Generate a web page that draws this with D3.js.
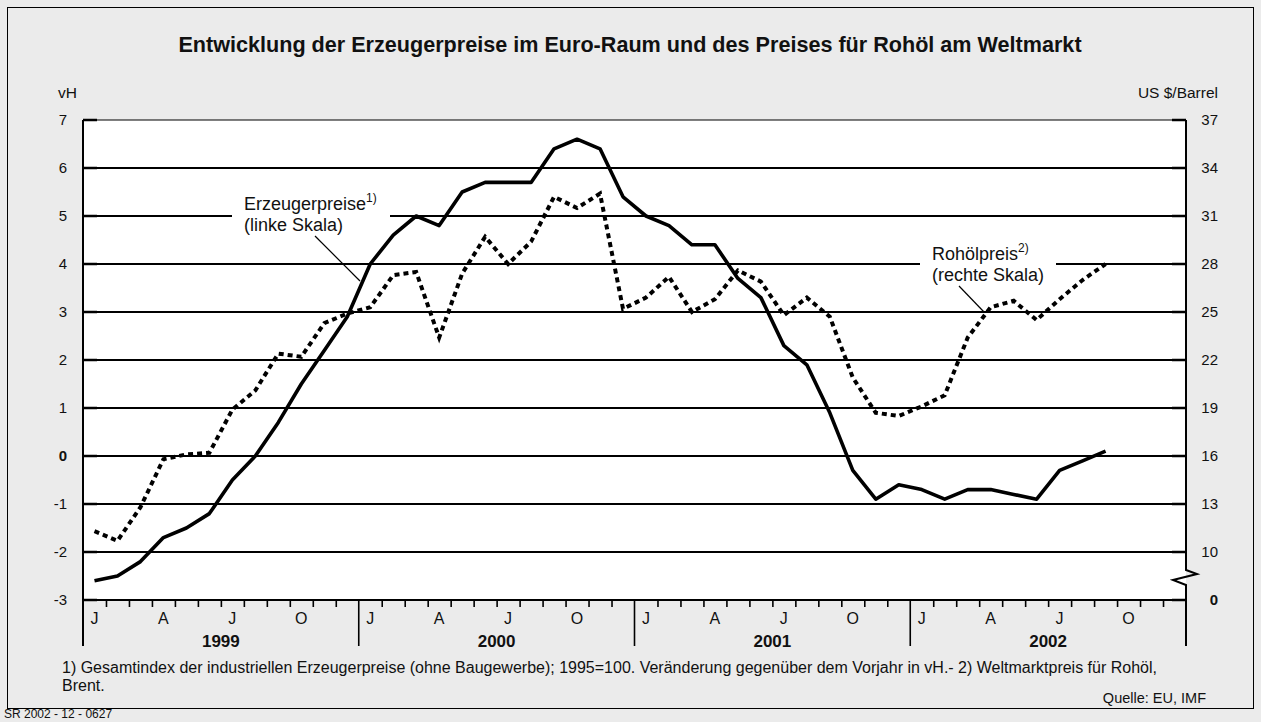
<!DOCTYPE html>
<html><head><meta charset="utf-8">
<script src="https://cdn.jsdelivr.net/npm/d3@7"></script>
<style>
body{margin:0;background:#ebebeb;}
svg{display:block;font-family:"Liberation Sans",Arial,Helvetica,sans-serif;}
</style>
</head><body><svg id="c" width="1261" height="722"></svg>
<script>
// ---- data ----
const years = ["1999","2000","2001","2002"];
const monthLetters = ["J","","","A","","","J","","","O","",""];
// Erzeugerpreise, Veränderung gegenüber Vorjahr in vH (linke Skala), Jan 1999 - Sep 2002
const erzeuger = [-2.6,-2.5,-2.2,-1.7,-1.5,-1.2,-0.5,0.0,0.7,1.5,2.2,2.9,
                  4.0,4.6,5.0,4.8,5.5,5.7,5.7,5.7,6.4,6.6,6.4,5.4,
                  5.0,4.8,4.4,4.4,3.7,3.3,2.3,1.9,0.9,-0.3,-0.9,-0.6,
                  -0.7,-0.9,-0.7,-0.7,-0.8,-0.9,-0.3,-0.1,0.1];
// Rohölpreis Brent, US $/Barrel (rechte Skala)
const oil = [11.3,10.7,12.8,15.8,16.1,16.2,18.9,20.1,22.4,22.2,24.3,24.9,
             25.3,27.3,27.5,23.4,27.4,29.7,28.0,29.4,32.2,31.5,32.4,25.2,
             25.9,27.2,25.0,25.8,27.6,26.9,24.8,25.9,24.7,20.9,18.7,18.5,
             19.1,19.8,23.4,25.3,25.7,24.5,25.8,27.0,28.0];
const leftTicks = [-3,-2,-1,0,1,2,3,4,5,6,7];
const rightTicks = [10,13,16,19,22,25,28,31,34,37];
const rightBreakTick = "0";
const title = "Entwicklung der Erzeugerpreise im Euro-Raum und des Preises für Rohöl am Weltmarkt";
const leftUnit = "vH", rightUnit = "US $/Barrel";
const footnote1 = "1) Gesamtindex der industriellen Erzeugerpreise (ohne Baugewerbe); 1995=100. Veränderung gegenüber dem Vorjahr in vH.- 2) Weltmarktpreis für Rohöl,";
const footnote2 = "Brent.";
const source = "Quelle: EU, IMF";
const code = "SR 2002 - 12 - 0627";

// ---- layout ----
const W = 1261, H = 722;
const L = 83, R = 1186, T = 120, B = 600, axisBottom = 646;
const svg = d3.select("#c");
const nMonths = years.length * 12;
const x = d3.scaleLinear().domain([0, nMonths]).range([L, R]);
const yL = d3.scaleLinear().domain([-3, 7]).range([B, T]);
const yR = d3.scaleLinear().domain([10, 37]).range([yL(-2), T]);

svg.append("rect").attr("width", W).attr("height", H).attr("fill", "#ebebeb");
svg.append("rect").attr("x", 7.5).attr("y", 7.5).attr("width", 1246).attr("height", 701)
   .attr("fill", "none").attr("stroke", "#000").attr("stroke-width", 1);

// plot area
svg.append("rect").attr("x", L).attr("y", T).attr("width", R - L).attr("height", B - T).attr("fill", "#fff");

// gridlines
svg.append("g").selectAll("line").data(leftTicks.filter(d => d > -3 && d < 7)).join("line")
  .attr("x1", L).attr("x2", R).attr("y1", d => yL(d)).attr("y2", d => yL(d))
  .attr("stroke", "#000").attr("stroke-width", 2);
// short ticks at both sides
svg.append("g").selectAll("line").data(leftTicks).join("line")
  .attr("x1", L).attr("x2", L + 14).attr("y1", d => yL(d)).attr("y2", d => yL(d))
  .attr("stroke", "#000").attr("stroke-width", 2.5);
svg.append("g").selectAll("line").data(leftTicks).join("line")
  .attr("x1", R - 14).attr("x2", R).attr("y1", d => yL(d)).attr("y2", d => yL(d))
  .attr("stroke", "#000").attr("stroke-width", 2.5);
// top border
svg.append("line").attr("x1", L).attr("x2", R).attr("y1", T).attr("y2", T).attr("stroke", "#000").attr("stroke-width", 1.2);
// bottom axis line
svg.append("line").attr("x1", L).attr("x2", R).attr("y1", B).attr("y2", B).attr("stroke", "#000").attr("stroke-width", 2);

// label knockouts
svg.append("rect").attr("x", 232).attr("y", 192).attr("width", 158).attr("height", 46).attr("fill", "#fff");
svg.append("rect").attr("x", 920).attr("y", 242).attr("width", 136).attr("height", 46).attr("fill", "#fff");

// left axis line
svg.append("line").attr("x1", L).attr("x2", L).attr("y1", T).attr("y2", axisBottom).attr("stroke", "#000").attr("stroke-width", 2);
// right axis with break
svg.append("path")
  .attr("d", `M${R},${T}V570L${R + 11},574L${R - 13},580L${R},585V${axisBottom}`)
  .attr("fill", "none").attr("stroke", "#000").attr("stroke-width", 2);

// month ticks
const monthIdx = d3.range(1, nMonths).filter(i => i % 12 !== 0);
svg.append("g").attr("transform", `translate(0,${B})`)
  .call(d3.axisBottom(x).tickValues(monthIdx).tickSize(7).tickFormat(""))
  .call(g => g.select(".domain").remove())
  .call(g => g.selectAll("line").attr("stroke", "#000").attr("stroke-width", 1.6));
// year separators
svg.append("g").selectAll("line").data(d3.range(1, years.length)).join("line")
  .attr("x1", d => x(d * 12)).attr("x2", d => x(d * 12)).attr("y1", B).attr("y2", axisBottom)
  .attr("stroke", "#000").attr("stroke-width", 1.6);
// month letters
const monthLabelData = d3.range(nMonths).map(i => ({i, t: monthLetters[i % 12]})).filter(d => d.t);
svg.append("g").selectAll("text").data(monthLabelData).join("text")
  .attr("x", d => x(d.i + 0.5)).attr("y", 624).attr("text-anchor", "middle")
  .attr("font-size", 16).attr("fill", "#111").text(d => d.t);
// year labels
svg.append("g").selectAll("text").data(years).join("text")
  .attr("x", (d, i) => x(i * 12 + 6)).attr("y", 647).attr("text-anchor", "middle")
  .attr("font-size", 17).attr("font-weight", "bold").attr("fill", "#111").text(d => d);

// left axis labels
svg.append("g").attr("transform", `translate(${L},0)`)
  .call(d3.axisLeft(yL).tickValues(leftTicks).tickSize(0).tickPadding(16).tickFormat(d => String(d)))
  .call(g => g.select(".domain").remove())
  .call(g => g.selectAll("text").attr("font-size", 15).attr("font-family", null).attr("fill", "#111")
     .attr("font-weight", d => d === 0 ? "bold" : null));
// right axis labels
svg.append("g").attr("transform", `translate(${R},0)`)
  .call(d3.axisRight(yR).tickValues(rightTicks).tickSize(0).tickPadding(32))
  .call(g => g.select(".domain").remove())
  .call(g => g.selectAll("text").attr("font-size", 15).attr("font-family", null).attr("fill", "#111").attr("text-anchor", "end"));
svg.append("text").attr("x", 1218).attr("y", B).attr("dy", "0.32em").attr("text-anchor", "end")
  .attr("font-size", 15).attr("font-weight", "bold").attr("fill", "#111").text(rightBreakTick);

// units
svg.append("text").attr("x", 58).attr("y", 98).attr("font-size", 15.5).attr("fill", "#111").text(leftUnit);
svg.append("text").attr("x", 1218).attr("y", 98).attr("text-anchor", "end").attr("font-size", 15.5).attr("fill", "#111").text(rightUnit);

// data lines
const xm = i => x(i + 0.5);
svg.append("path").datum(erzeuger)
  .attr("d", d3.line().x((d, i) => xm(i)).y(d => yL(d)))
  .attr("fill", "none").attr("stroke", "#000").attr("stroke-width", 3.6).attr("stroke-linejoin", "round");
svg.append("path").datum(oil)
  .attr("d", d3.line().x((d, i) => xm(i)).y(d => yR(d)))
  .attr("fill", "none").attr("stroke", "#000").attr("stroke-width", 4).attr("stroke-dasharray", "5,4");

// annotations
function label(xp, y1, l1, sup, l2) {
  const t = svg.append("text").attr("x", xp).attr("y", y1).attr("font-size", 18).attr("fill", "#111");
  t.append("tspan").text(l1);
  t.append("tspan").attr("font-size", 12).attr("dy", -8).text(sup);
  svg.append("text").attr("x", xp).attr("y", y1 + 21).attr("font-size", 18).attr("fill", "#111").text(l2);
}
label(244, 210, "Erzeugerpreise", "1)", "(linke Skala)");
label(932, 260, "Rohölpreis", "2)", "(rechte Skala)");
svg.append("line").attr("x1", 315).attr("y1", 236).attr("x2", 360).attr("y2", 281).attr("stroke", "#000").attr("stroke-width", 1.2);
svg.append("line").attr("x1", 959).attr("y1", 286).attr("x2", 984).attr("y2", 312).attr("stroke", "#000").attr("stroke-width", 1.2);

// title
svg.append("text").attr("x", 630).attr("y", 52).attr("text-anchor", "middle")
  .attr("font-size", 21.6).attr("font-weight", "bold").attr("fill", "#111").text(title);

// footnotes
svg.append("text").attr("x", 62).attr("y", 673).attr("font-size", 16).attr("fill", "#111").text(footnote1);
svg.append("text").attr("x", 62).attr("y", 691).attr("font-size", 16).attr("fill", "#111").text(footnote2);
svg.append("text").attr("x", 1206).attr("y", 703).attr("text-anchor", "end").attr("font-size", 14.5).attr("fill", "#111").text(source);
svg.append("text").attr("x", 4).attr("y", 718).attr("font-size", 12).attr("fill", "#111").text(code);
</script>
</body></html>
